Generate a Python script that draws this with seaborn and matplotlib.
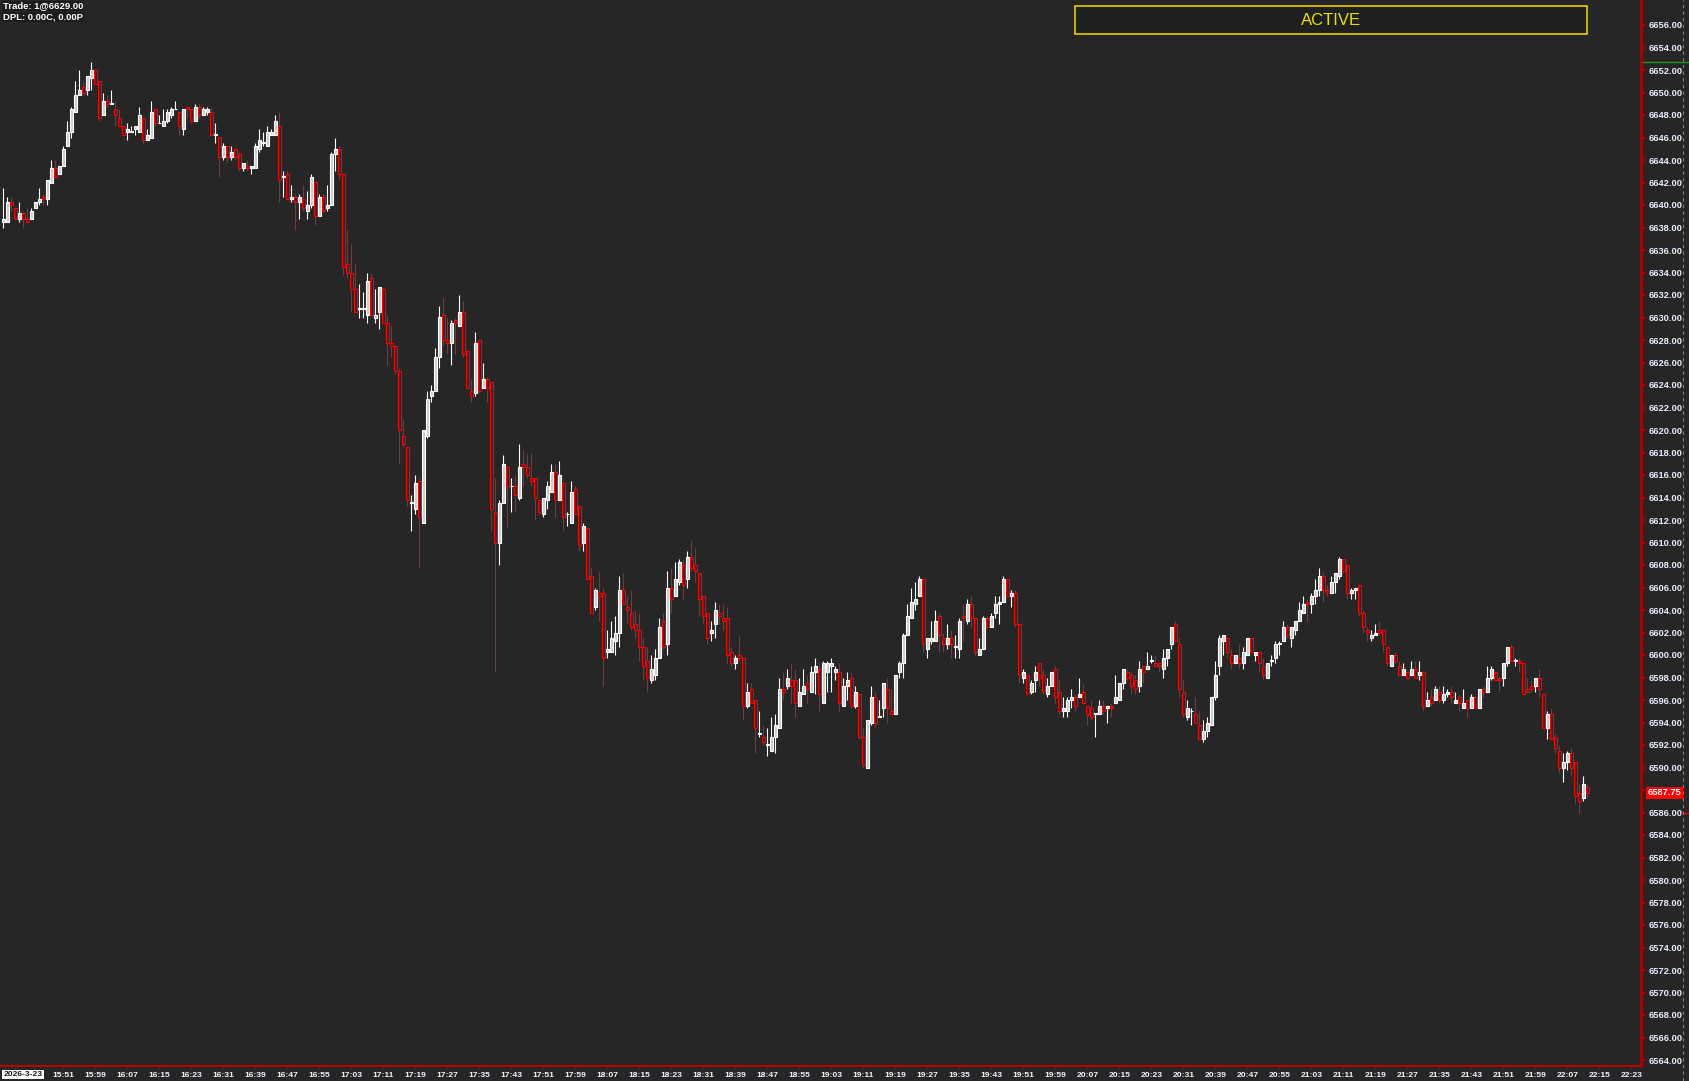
import numpy as np
import pandas as pd
import seaborn as sns
import matplotlib.pyplot as plt
from matplotlib.patches import Rectangle
from matplotlib.lines import Line2D

# 1-minute bars, first bar 15:36, last bar 22:12
opens = [
    6638.5, 6638.5, 6640.25, 6639.75, 6638.75, 6639.25, 6638.75, 6638.75, 6639.75, 6640.25,
    6640.75, 6640.5, 6642.0, 6643.25, 6642.75, 6643.5, 6645.25, 6646.5, 6648.25, 6649.75,
    6650.5, 6650.25, 6651.25, 6652.0, 6651.0, 6648.0, 6649.25, 6649.0, 6648.5, 6647.75,
    6647.0, 6646.5, 6646.5, 6646.75, 6646.5, 6647.75, 6645.75, 6646.0, 6648.5, 6647.25,
    6647.0, 6647.5, 6648.0, 6648.5, 6648.25, 6646.75, 6648.75, 6648.5, 6647.5, 6648.75,
    6648.0, 6648.25, 6648.25, 6646.25, 6646.0, 6644.25, 6645.25, 6644.25, 6645.0, 6644.5,
    6643.25, 6643.5, 6643.25, 6643.25, 6645.0, 6645.5, 6645.25, 6646.25, 6646.25, 6647.0,
    6642.5, 6642.75, 6640.5, 6640.75, 6640.25, 6640.5, 6639.5, 6640.0, 6642.0, 6639.0,
    6640.75, 6639.75, 6640.0, 6644.5, 6645.0, 6642.75, 6634.75, 6634.0, 6632.5, 6630.75,
    6630.75, 6630.25, 6633.5, 6630.0, 6630.5, 6632.5, 6629.5, 6627.75, 6627.5, 6625.25,
    6619.5, 6618.5, 6613.5, 6613.0, 6615.5, 6611.75, 6619.5, 6623.0, 6623.5, 6626.5,
    6630.25, 6628.0, 6627.75, 6629.75, 6629.25, 6630.5, 6627.0, 6623.5, 6623.25, 6628.0,
    6623.75, 6624.5, 6624.25, 6612.75, 6610.0, 6613.5, 6616.75, 6615.0, 6615.0, 6614.0,
    6617.0, 6616.75, 6615.75, 6615.75, 6613.75, 6612.5, 6613.75, 6614.5, 6616.25, 6613.75,
    6615.25, 6612.5, 6611.75, 6614.75, 6613.25, 6610.0, 6611.25, 6607.0, 6604.25, 6605.5,
    6605.5, 6600.25, 6600.25, 6601.25, 6602.0, 6605.75, 6604.25, 6603.75, 6602.75, 6602.25,
    6600.75, 6599.5, 6597.75, 6598.25, 6599.75, 6603.0, 6601.0, 6606.0, 6605.25, 6606.5,
    6608.0, 6606.75, 6608.75, 6608.0, 6607.25, 6605.25, 6603.75, 6602.0, 6602.75, 6603.75,
    6603.25, 6603.25, 6600.25, 6599.25, 6600.0, 6599.75, 6595.5, 6597.0, 6596.0, 6593.0,
    6592.75, 6592.0, 6591.5, 6592.75, 6593.5, 6597.0, 6597.25, 6597.75, 6597.75, 6595.5,
    6596.5, 6597.5, 6596.75, 6598.5, 6598.75, 6595.75, 6598.5, 6599.0, 6598.5, 6598.5,
    6595.5, 6597.25, 6598.0, 6595.5, 6596.5, 6592.75, 6590.0, 6594.0, 6596.25, 6594.5,
    6595.25, 6597.0, 6595.0, 6594.75, 6598.5, 6599.25, 6601.75, 6603.25, 6604.5, 6605.25,
    6606.75, 6600.5, 6601.25, 6601.25, 6603.5, 6601.5, 6601.0, 6601.5, 6600.75, 6600.5,
    6603.5, 6603.0, 6604.5, 6603.25, 6600.0, 6600.5, 6603.25, 6602.5, 6603.75, 6604.5,
    6604.75, 6606.75, 6605.25, 6605.5, 6602.75, 6598.0, 6598.25, 6596.75, 6597.75, 6599.25,
    6598.25, 6596.5, 6597.25, 6598.75, 6596.75, 6595.0, 6595.0, 6596.0, 6596.25, 6596.25,
    6596.75, 6595.5, 6595.25, 6594.75, 6594.75, 6595.5, 6595.25, 6595.5, 6595.75, 6596.0,
    6597.5, 6598.5, 6598.25, 6597.75, 6597.25, 6599.0, 6598.75, 6599.5, 6599.25, 6599.25,
    6598.75, 6599.75, 6601.0, 6602.75, 6601.0, 6596.75, 6594.5, 6595.0, 6594.75, 6593.75,
    6592.5, 6593.25, 6593.75, 6596.25, 6599.0, 6601.25, 6601.5, 6600.0, 6599.25, 6599.75,
    6599.25, 6600.0, 6601.5, 6600.0, 6600.25, 6599.0, 6598.0, 6599.5, 6599.75, 6601.0,
    6601.25, 6602.5, 6601.5, 6602.25, 6603.0, 6603.75, 6604.75, 6604.5, 6605.25, 6605.75,
    6607.0, 6605.75, 6605.5, 6606.5, 6607.0, 6608.5, 6608.0, 6605.5, 6605.75, 6606.25,
    6603.75, 6602.25, 6601.5, 6601.75, 6602.25, 6602.25, 6600.75, 6599.0, 6600.0, 6599.0,
    6598.25, 6598.5, 6598.25, 6598.75, 6598.25, 6598.5, 6595.5, 6596.25, 6596.0, 6596.75,
    6596.0, 6596.5, 6596.75, 6595.75, 6596.25, 6595.25, 6596.0, 6595.25, 6596.25, 6595.25,
    6597.0, 6596.75, 6598.0, 6598.5, 6598.0, 6598.0, 6599.25, 6600.75, 6599.5, 6599.5,
    6599.25, 6597.0, 6597.25, 6597.25, 6598.0, 6596.5, 6593.5, 6594.75, 6592.75, 6591.5,
    6590.0, 6590.5, 6591.25, 6590.5, 6587.75, 6587.25, 6588.25,
]
highs = [
    6641.5, 6640.75, 6640.75, 6639.75, 6640.25, 6639.5, 6639.75, 6639.75, 6640.25, 6641.5,
    6641.0, 6642.25, 6644.0, 6644.0, 6643.5, 6645.25, 6647.5, 6648.75, 6651.0, 6652.0,
    6651.0, 6651.5, 6652.75, 6652.0, 6651.0, 6650.0, 6649.75, 6650.25, 6649.25, 6648.5,
    6647.0, 6647.25, 6647.0, 6647.0, 6648.75, 6647.75, 6646.75, 6649.25, 6648.5, 6648.0,
    6648.5, 6648.5, 6648.75, 6649.25, 6648.25, 6648.5, 6648.75, 6648.5, 6649.0, 6649.0,
    6648.75, 6648.75, 6648.75, 6647.25, 6646.0, 6645.5, 6645.25, 6645.25, 6645.0, 6644.75,
    6643.75, 6644.0, 6643.5, 6645.5, 6646.75, 6646.5, 6647.0, 6646.75, 6648.0, 6648.25,
    6643.0, 6643.0, 6641.75, 6641.0, 6641.0, 6641.75, 6641.25, 6642.75, 6642.0, 6641.0,
    6641.0, 6641.75, 6644.75, 6646.0, 6645.25, 6642.75, 6637.75, 6636.5, 6634.75, 6633.0,
    6632.25, 6634.0, 6634.0, 6632.5, 6632.75, 6632.75, 6630.25, 6629.25, 6627.5, 6625.5,
    6621.0, 6618.5, 6614.25, 6616.0, 6615.75, 6620.0, 6623.5, 6624.0, 6627.25, 6631.0,
    6631.75, 6630.0, 6629.75, 6630.0, 6632.0, 6631.5, 6627.0, 6624.5, 6628.75, 6628.0,
    6626.0, 6624.75, 6624.25, 6615.75, 6613.75, 6617.75, 6616.75, 6615.75, 6616.0, 6618.75,
    6618.25, 6618.0, 6618.0, 6615.75, 6613.75, 6614.0, 6615.5, 6617.0, 6617.0, 6617.25,
    6615.25, 6612.75, 6615.5, 6615.0, 6613.25, 6611.75, 6611.25, 6607.75, 6606.0, 6607.5,
    6606.0, 6602.25, 6603.0, 6603.5, 6607.0, 6607.25, 6605.25, 6605.75, 6604.0, 6603.75,
    6601.5, 6600.75, 6600.0, 6600.5, 6603.25, 6603.75, 6607.5, 6607.75, 6608.25, 6608.5,
    6608.5, 6609.25, 6610.25, 6609.5, 6607.25, 6605.25, 6603.75, 6603.0, 6604.75, 6604.5,
    6604.5, 6604.25, 6600.75, 6600.0, 6601.75, 6599.75, 6597.5, 6597.5, 6596.0, 6595.0,
    6593.75, 6593.5, 6594.5, 6594.75, 6598.0, 6598.5, 6598.75, 6599.25, 6598.75, 6598.0,
    6598.75, 6598.25, 6599.0, 6599.75, 6599.5, 6599.5, 6599.5, 6599.75, 6599.0, 6599.25,
    6598.0, 6598.5, 6598.5, 6597.25, 6596.5, 6593.5, 6594.25, 6597.25, 6596.75, 6596.0,
    6597.5, 6598.0, 6597.0, 6598.25, 6599.5, 6602.0, 6604.5, 6606.0, 6606.5, 6607.0,
    6606.75, 6601.5, 6603.0, 6604.0, 6603.75, 6602.0, 6602.75, 6602.25, 6601.75, 6603.25,
    6604.5, 6605.0, 6605.25, 6603.25, 6601.5, 6603.5, 6603.5, 6603.75, 6605.25, 6605.25,
    6607.0, 6606.75, 6605.75, 6605.75, 6602.75, 6598.75, 6598.25, 6597.75, 6599.0, 6599.25,
    6598.75, 6598.0, 6598.5, 6599.0, 6597.75, 6596.25, 6596.25, 6597.0, 6596.5, 6598.0,
    6597.5, 6595.5, 6596.0, 6594.75, 6596.0, 6596.0, 6595.5, 6595.75, 6598.25, 6597.5,
    6598.75, 6598.75, 6598.5, 6598.25, 6599.5, 6599.0, 6600.25, 6600.0, 6600.0, 6599.25,
    6600.5, 6600.5, 6602.5, 6603.0, 6601.5, 6597.75, 6596.0, 6595.25, 6596.25, 6595.0,
    6594.25, 6594.5, 6596.25, 6599.5, 6601.75, 6601.75, 6601.5, 6600.5, 6600.0, 6601.0,
    6600.75, 6601.5, 6601.5, 6600.25, 6600.25, 6599.75, 6599.25, 6600.0, 6601.25, 6601.25,
    6603.0, 6602.75, 6602.5, 6603.0, 6604.75, 6605.25, 6605.0, 6605.5, 6606.75, 6607.75,
    6607.5, 6606.25, 6607.0, 6607.25, 6608.75, 6608.5, 6608.0, 6606.0, 6606.0, 6606.25,
    6604.0, 6602.5, 6602.25, 6602.75, 6603.0, 6602.25, 6600.75, 6600.0, 6600.25, 6599.5,
    6599.25, 6598.5, 6599.5, 6599.5, 6599.5, 6598.5, 6596.75, 6597.0, 6597.25, 6597.25,
    6597.25, 6597.0, 6597.25, 6596.75, 6596.5, 6597.0, 6596.0, 6596.5, 6596.25, 6597.0,
    6597.25, 6599.0, 6599.0, 6598.5, 6598.0, 6599.25, 6600.75, 6601.0, 6599.75, 6599.75,
    6599.25, 6598.0, 6597.75, 6598.0, 6598.75, 6596.5, 6595.0, 6595.25, 6593.0, 6592.0,
    6591.25, 6591.5, 6591.75, 6590.5, 6588.5, 6589.25, 6588.5,
]
lows = [
    6638.0, 6638.5, 6639.5, 6638.75, 6638.5, 6638.0, 6638.5, 6638.75, 6639.75, 6640.0,
    6640.0, 6640.0, 6642.0, 6642.5, 6642.75, 6643.5, 6645.25, 6646.0, 6648.25, 6649.75,
    6649.75, 6649.75, 6650.25, 6650.75, 6647.5, 6648.0, 6648.75, 6649.0, 6647.0, 6647.0,
    6646.25, 6645.75, 6646.5, 6646.25, 6646.5, 6645.5, 6645.75, 6646.0, 6647.0, 6647.25,
    6647.0, 6647.25, 6647.75, 6648.5, 6646.25, 6646.25, 6647.75, 6647.25, 6647.5, 6647.75,
    6648.0, 6648.0, 6646.25, 6645.5, 6642.5, 6644.0, 6643.75, 6644.0, 6644.0, 6643.0,
    6643.0, 6643.0, 6642.75, 6643.25, 6644.75, 6645.25, 6645.25, 6646.25, 6646.25, 6640.25,
    6640.75, 6640.5, 6640.25, 6637.75, 6638.75, 6639.5, 6638.75, 6639.75, 6638.25, 6639.0,
    6639.5, 6639.5, 6640.0, 6643.0, 6642.25, 6633.75, 6633.5, 6630.5, 6630.5, 6630.0,
    6630.0, 6629.5, 6630.25, 6629.5, 6629.0, 6629.5, 6625.75, 6626.5, 6625.0, 6617.0,
    6618.5, 6613.25, 6611.0, 6612.5, 6607.75, 6611.75, 6619.25, 6622.5, 6623.5, 6625.5,
    6627.5, 6626.75, 6625.75, 6626.75, 6629.25, 6626.5, 6623.75, 6622.5, 6623.0, 6623.25,
    6623.75, 6622.5, 6611.0, 6598.5, 6608.0, 6613.5, 6611.25, 6612.75, 6612.75, 6613.75,
    6615.0, 6615.75, 6615.0, 6612.0, 6612.5, 6612.25, 6613.0, 6614.5, 6612.25, 6613.75,
    6611.0, 6611.5, 6611.75, 6612.5, 6609.25, 6609.25, 6606.75, 6603.75, 6604.0, 6603.0,
    6597.25, 6599.75, 6600.25, 6600.0, 6600.75, 6604.5, 6602.75, 6602.25, 6601.5, 6599.5,
    6597.75, 6596.75, 6597.5, 6597.75, 6599.75, 6600.5, 6600.0, 6603.75, 6605.25, 6606.25,
    6605.0, 6606.0, 6607.5, 6606.5, 6603.5, 6602.75, 6601.0, 6601.25, 6601.5, 6602.75,
    6602.25, 6599.25, 6599.0, 6598.75, 6599.5, 6594.25, 6595.25, 6595.75, 6591.25, 6592.75,
    6592.0, 6591.0, 6591.5, 6591.25, 6593.5, 6596.0, 6597.0, 6595.75, 6594.5, 6595.5,
    6596.5, 6595.75, 6596.75, 6596.5, 6595.0, 6595.75, 6596.75, 6596.75, 6597.75, 6595.0,
    6595.5, 6596.0, 6595.25, 6595.25, 6592.5, 6590.0, 6590.0, 6593.75, 6593.5, 6594.5,
    6594.5, 6594.0, 6594.75, 6594.75, 6598.0, 6598.0, 6601.75, 6603.25, 6604.0, 6605.25,
    6600.25, 6599.75, 6601.0, 6601.25, 6600.25, 6600.25, 6600.5, 6599.75, 6599.75, 6599.75,
    6601.25, 6602.75, 6602.5, 6600.0, 6600.0, 6600.5, 6602.5, 6602.5, 6603.25, 6602.75,
    6604.75, 6605.25, 6604.25, 6602.5, 6597.5, 6597.5, 6596.5, 6596.5, 6596.75, 6597.25,
    6596.5, 6596.25, 6597.25, 6595.75, 6594.75, 6594.5, 6594.5, 6595.25, 6595.0, 6596.25,
    6595.75, 6593.75, 6594.25, 6592.75, 6594.75, 6594.75, 6594.0, 6594.5, 6595.75, 6596.0,
    6597.0, 6597.75, 6596.5, 6596.5, 6596.75, 6597.5, 6598.75, 6599.25, 6599.0, 6598.5,
    6598.0, 6599.0, 6600.5, 6601.25, 6596.25, 6594.5, 6594.25, 6593.75, 6594.0, 6592.5,
    6592.25, 6592.75, 6593.75, 6596.0, 6598.25, 6600.0, 6599.75, 6598.75, 6599.25, 6598.75,
    6598.75, 6600.0, 6600.25, 6599.5, 6598.5, 6597.75, 6598.0, 6599.0, 6599.25, 6600.0,
    6601.25, 6601.5, 6600.75, 6601.75, 6603.0, 6603.75, 6603.0, 6603.75, 6604.5, 6605.25,
    6604.75, 6605.25, 6605.5, 6605.5, 6606.75, 6607.25, 6605.0, 6605.0, 6605.0, 6603.5,
    6602.0, 6601.25, 6601.25, 6601.75, 6601.75, 6600.25, 6599.0, 6599.0, 6599.25, 6598.25,
    6598.25, 6598.0, 6598.25, 6598.0, 6597.75, 6595.0, 6595.5, 6595.5, 6596.0, 6595.75,
    6595.75, 6596.25, 6595.75, 6595.75, 6595.0, 6595.25, 6594.5, 6595.25, 6595.25, 6595.25,
    6596.25, 6596.75, 6597.75, 6597.75, 6596.75, 6597.25, 6599.0, 6599.5, 6599.0, 6598.5,
    6596.5, 6596.75, 6596.75, 6596.75, 6596.25, 6593.5, 6592.5, 6592.5, 6591.25, 6589.5,
    6588.75, 6589.75, 6589.25, 6586.75, 6586.0, 6587.0, 6587.25,
]
closes = [
    6638.75, 6640.25, 6640.0, 6638.75, 6639.25, 6638.75, 6638.5, 6639.5, 6640.25, 6640.5,
    6640.5, 6642.25, 6643.25, 6642.5, 6643.5, 6645.0, 6646.5, 6648.5, 6649.75, 6650.25,
    6650.0, 6651.5, 6652.0, 6650.75, 6647.75, 6649.25, 6649.0, 6649.0, 6648.0, 6647.0,
    6646.25, 6646.75, 6646.5, 6647.0, 6648.0, 6645.75, 6646.25, 6648.25, 6647.25, 6647.25,
    6647.5, 6648.25, 6648.5, 6648.5, 6647.0, 6648.5, 6648.5, 6647.5, 6648.75, 6648.0,
    6648.5, 6648.5, 6646.25, 6646.25, 6644.25, 6645.25, 6644.25, 6644.75, 6644.25, 6643.25,
    6643.75, 6643.25, 6643.5, 6645.25, 6645.75, 6645.5, 6646.5, 6646.5, 6647.5, 6642.25,
    6642.5, 6640.5, 6640.75, 6640.25, 6640.75, 6639.75, 6640.0, 6642.5, 6639.0, 6640.75,
    6639.5, 6640.0, 6644.5, 6645.0, 6642.75, 6634.5, 6634.0, 6632.5, 6630.5, 6630.75,
    6630.75, 6633.25, 6630.25, 6630.25, 6632.75, 6629.5, 6627.75, 6627.5, 6625.25, 6620.0,
    6618.75, 6613.75, 6613.5, 6615.25, 6612.25, 6620.0, 6622.75, 6623.5, 6626.5, 6630.0,
    6628.0, 6627.75, 6629.5, 6629.5, 6630.5, 6626.75, 6623.75, 6623.0, 6627.75, 6623.5,
    6624.5, 6623.75, 6613.0, 6610.0, 6613.5, 6617.0, 6615.0, 6615.0, 6614.25, 6616.75,
    6616.75, 6616.0, 6615.5, 6614.0, 6612.75, 6614.0, 6615.0, 6616.25, 6613.75, 6616.0,
    6612.25, 6612.5, 6614.5, 6612.5, 6609.75, 6611.5, 6606.75, 6603.75, 6605.75, 6605.25,
    6599.75, 6600.5, 6601.5, 6602.0, 6605.75, 6604.5, 6604.0, 6602.5, 6602.25, 6600.75,
    6599.0, 6598.0, 6598.75, 6599.75, 6602.5, 6600.75, 6606.0, 6605.0, 6606.75, 6608.25,
    6606.25, 6608.75, 6607.75, 6607.5, 6605.0, 6603.5, 6601.5, 6602.25, 6604.0, 6603.5,
    6603.0, 6600.0, 6599.25, 6599.75, 6599.75, 6595.5, 6596.75, 6595.75, 6593.5, 6593.0,
    6592.25, 6592.0, 6592.75, 6593.75, 6597.0, 6596.75, 6598.0, 6597.25, 6595.75, 6596.75,
    6597.25, 6597.0, 6598.5, 6599.0, 6596.5, 6599.25, 6599.25, 6599.25, 6598.75, 6595.75,
    6597.25, 6597.75, 6595.5, 6596.75, 6592.75, 6590.25, 6594.25, 6596.25, 6594.0, 6594.5,
    6597.5, 6595.25, 6594.75, 6598.25, 6599.25, 6601.75, 6603.5, 6604.75, 6605.0, 6606.75,
    6601.0, 6601.5, 6601.5, 6603.0, 6601.75, 6601.0, 6601.5, 6601.0, 6600.75, 6603.0,
    6603.25, 6604.5, 6603.25, 6600.25, 6600.5, 6603.25, 6602.5, 6603.5, 6604.5, 6604.75,
    6606.75, 6605.25, 6605.5, 6602.75, 6598.25, 6598.5, 6596.5, 6597.5, 6598.5, 6598.0,
    6596.75, 6597.25, 6598.5, 6596.25, 6595.0, 6595.25, 6596.0, 6596.25, 6595.5, 6596.5,
    6595.75, 6594.75, 6594.5, 6594.75, 6595.5, 6595.0, 6595.5, 6595.25, 6596.25, 6597.5,
    6598.75, 6598.0, 6597.25, 6597.0, 6598.75, 6598.5, 6599.0, 6599.5, 6599.0, 6599.0,
    6599.75, 6600.5, 6602.5, 6601.25, 6597.0, 6594.75, 6595.25, 6595.0, 6594.0, 6592.5,
    6593.25, 6594.0, 6596.25, 6598.25, 6601.5, 6601.75, 6600.25, 6599.25, 6600.0, 6599.25,
    6600.25, 6601.5, 6600.25, 6600.25, 6599.25, 6598.25, 6599.25, 6599.5, 6601.0, 6601.0,
    6602.5, 6601.75, 6602.5, 6603.0, 6604.0, 6604.5, 6604.5, 6605.25, 6605.75, 6607.0,
    6605.75, 6605.5, 6606.5, 6607.25, 6608.5, 6607.5, 6605.5, 6605.75, 6606.0, 6603.75,
    6602.5, 6602.0, 6601.75, 6602.0, 6602.0, 6601.0, 6599.25, 6600.0, 6599.5, 6598.25,
    6598.75, 6598.0, 6598.75, 6598.0, 6598.5, 6595.5, 6596.0, 6595.75, 6597.0, 6596.0,
    6596.5, 6596.75, 6596.25, 6596.0, 6595.75, 6595.75, 6595.25, 6596.25, 6595.25, 6597.0,
    6596.75, 6598.0, 6598.75, 6597.75, 6597.75, 6599.25, 6600.75, 6599.5, 6599.5, 6599.25,
    6596.5, 6596.75, 6597.0, 6598.0, 6597.0, 6593.5, 6594.75, 6592.5, 6591.75, 6590.0,
    6590.5, 6591.25, 6590.0, 6587.5, 6587.0, 6588.5, 6587.75,
]

first_label = 15 * 60 + 51   # time of the first axis label
first_label_bar = 15         # bar index under the first label
label_step = 8               # minutes between labels
n_labels = 50
y_ticks = list(range(6564, 6657, 2))
session_high = 6652.75
session_low = 6586.0
last_price = 6587.75
header_lines = ['Trade: 1@6629.00', 'DPL: 0.00C, 0.00P']
date_label = '2026-3-23'
date_bar = 5
status_text = 'ACTIVE'

W, H = 1690, 1081
bg = '#262626'
up_fill, up_edge = '#cdcdcd', '#ffffff'
dn_edge = '#ff0000'
axis_red = '#b40000'


def main():
    sns.set_style('dark', {'axes.facecolor': bg, 'figure.facecolor': bg})
    plt.rcParams['font.family'] = ['Liberation Sans', 'DejaVu Sans']

    n = min(len(opens), len(highs), len(lows), len(closes))
    df = pd.DataFrame({'open': opens[:n], 'high': highs[:n], 'low': lows[:n], 'close': closes[:n]})
    df['bar'] = np.arange(n)
    up = df['close'] >= df['open']

    fig = plt.figure(figsize=(W / 100, H / 100), dpi=100)
    ax = fig.add_axes([0, 15 / H, 1641 / W, 1066 / H])
    ax.set_facecolor(bg)
    ax.grid(False)

    # wicks first, bodies on top
    ax.vlines(df['bar'], df['low'], df['high'],
              colors=np.where(up, up_edge, dn_edge), linewidth=0.8, zorder=2)
    body_lo = df[['open', 'close']].min(axis=1)
    body_h = (df['close'] - df['open']).abs().clip(lower=0.06)
    ax.bar(df['bar'], body_h, bottom=body_lo, width=0.72,
           color=np.where(up, up_fill, bg), edgecolor=np.where(up, up_edge, dn_edge),
           linewidth=0.8, zorder=3)

    ax.set_xlim(-0.825, -0.825 + 1641 / 4)
    ytop = 6656 + 25 / 11.25
    ax.set_ylim(ytop - 1066 / 11.25, ytop)

    for s in ['top', 'left']:
        ax.spines[s].set_visible(False)
    ax.spines['right'].set_color(axis_red)
    ax.spines['right'].set_linewidth(1.8)
    ax.spines['bottom'].set_color(axis_red)
    ax.spines['bottom'].set_linewidth(1.5)

    ax.yaxis.tick_right()
    ax.set_yticks(y_ticks)
    ax.set_yticklabels([f'{v:.2f}' for v in y_ticks])
    ax.tick_params(axis='y', right=True, left=False, direction='out', length=3,
                   width=1.5, color=axis_red, pad=2.2, labelsize=6.7, labelcolor='#e8eeff')

    xt = [first_label_bar + k * label_step for k in range(n_labels)]
    xl = []
    for k in range(n_labels):
        m = first_label + k * label_step
        xl.append(f'{m // 60}:{m % 60:02d}')
    ax.set_xticks(xt)
    ax.set_xticklabels(xl)
    ax.tick_params(axis='x', bottom=True, direction='out', length=3, width=1,
                   color=axis_red, pad=1.2, labelsize=6.1, labelcolor='#f0f4ff')
    for t in ax.get_xticklabels() + ax.get_yticklabels():
        t.set_fontweight('bold')

    # session high / low marks on the price scale
    ax.axhline(session_high, xmin=1.0, xmax=W / 1641, color='#1c9a1c', lw=1.0, clip_on=False)
    ax.axhline(session_low, xmin=1682 / 1641, xmax=W / 1641, color='#ff0000', lw=1.0, clip_on=False)
    ax.text(1664.5 / 1641, last_price, f'{last_price:.2f}', transform=ax.get_yaxis_transform(),
            ha='center', va='center', color='white', fontsize=6.7, fontweight='bold',
            bbox=dict(facecolor='#ff0000', edgecolor='none', pad=0.9), clip_on=False, zorder=5)

    fig.add_artist(Line2D([1683 / W] * 2, [0, 1], transform=fig.transFigure,
                          color='#808080', lw=0.8, ls=(0, (3, 3))))

    # date box under the first bars
    fig.text((3.3 + 4 * date_bar) / W, 1 - 1074.5 / H, date_label, ha='center', va='center',
             color='#1a1a1a', fontsize=6.1, fontweight='bold',
             bbox=dict(facecolor='white', edgecolor='none', pad=1.0))

    # header text
    for i, line in enumerate(header_lines):
        fig.text(3 / W, 1 - (6 + 11 * i) / H, line, ha='left', va='center', color='white',
                 fontsize=6.8, fontweight='bold',
                 bbox=dict(facecolor='#1c1c1c', edgecolor='none', pad=0.6))

    # status box
    fig.add_artist(Rectangle((1075 / W, 1 - 34 / H), 512 / W, 28 / H, transform=fig.transFigure,
                             facecolor='#1f1f1f', edgecolor='#e6cc00', linewidth=1.2))
    fig.text(1331 / W, 1 - 20.5 / H, status_text, ha='center', va='center',
             color='#e8e000', fontsize=12)

    fig.savefig('out.png', dpi=100, facecolor=bg)


if __name__ == '__main__':
    main()
